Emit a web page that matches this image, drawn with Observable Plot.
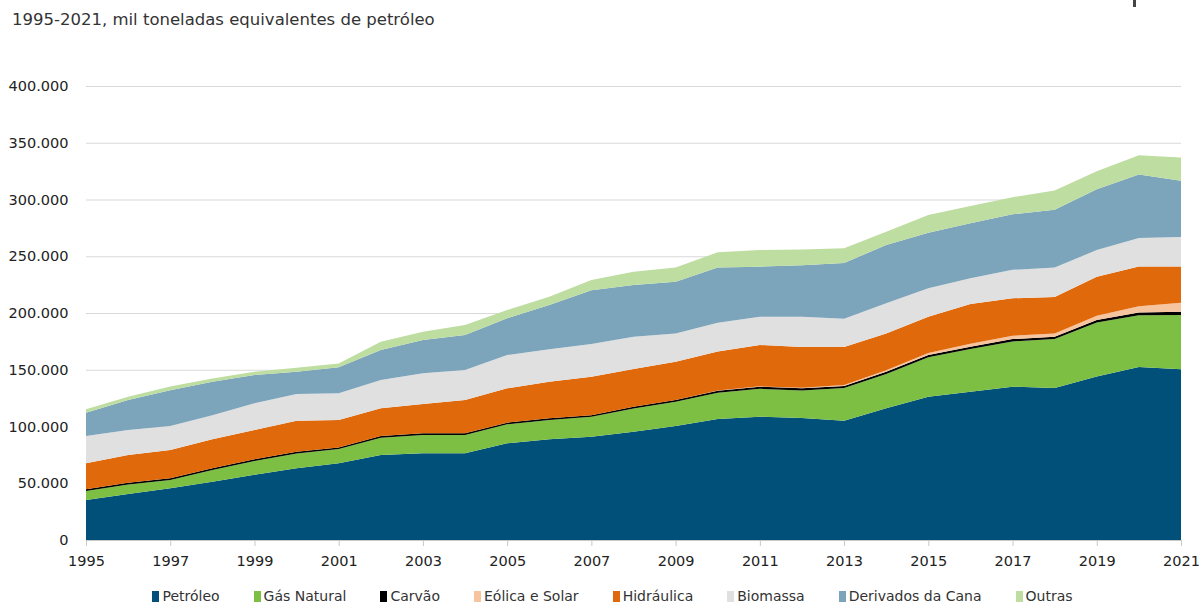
<!DOCTYPE html>
<html>
<head>
<meta charset="utf-8">
<script src="https://cdn.jsdelivr.net/npm/d3@7"></script>
<script src="https://cdn.jsdelivr.net/npm/@observablehq/plot@0.6"></script>
<style>
  html, body { margin: 0; padding: 0; background: #fff; }
  body { width: 1199px; height: 605px; position: relative; overflow: hidden; font-family: "DejaVu Sans", sans-serif; }
  #title { position: absolute; left: 12px; top: 10px; font-size: 16.5px; color: #333; }
  #logo { position: absolute; left: 1133px; top: 0; width: 3px; height: 7px; background: #444; }
  #chart { position: absolute; left: 0; top: 0; }
  #legend { position: absolute; left: 0; width: 1199px; top: 588px; display: flex; justify-content: center; gap: 34px; font-size: 14px; color: #333; padding-left: 26px; box-sizing: border-box; }
  #legend .item { display: flex; align-items: center; gap: 3px; }
  #legend .sw { width: 7px; height: 11px; display: inline-block; }
</style>
</head>
<body>
<div id="chart"></div>
<div id="title">1995-2021, mil toneladas equivalentes de petróleo</div>
<div id="logo"></div>
<div id="legend"></div>
<script>
const years = [1995,1996,1997,1998,1999,2000,2001,2002,2003,2004,2005,2006,2007,2008,2009,2010,2011,2012,2013,2014,2015,2016,2017,2018,2019,2020,2021];
const seriesNames = ["Petróleo","Gás Natural","Carvão","Eólica e Solar","Hidráulica","Biomassa","Derivados da Cana","Outras"];
const seriesColors = ["#00507a","#7dbf43","#000000","#f7c4a0","#e0690c","#e0e0e0","#7ca4ba","#bedda0"];
// values in thousand toe (mil tep)
const petroleo = [35.2,40.5,45.5,51.4,57.5,63.2,67.6,74.9,76.4,76.4,85.2,88.7,91,95.4,100.4,106.6,108.7,107.5,105,116,126.3,130.7,135,134,144,152.5,150.5];
const gasNatural = [8.0,8.5,7.3,10.3,12.1,13.1,12.5,15.2,16.1,16.1,16.7,17,17.5,20.5,21.4,23.1,24.5,24.3,28.9,30.3,34.7,37.6,40,43,47.6,45.5,47.7];
const carvao = [1.5,1.5,1.5,1.5,1.5,1.5,1.5,1.5,1.5,1.5,1.5,1.5,1.5,1.5,1.5,1.8,1.8,1.8,1.8,2,2,2,2,2,2.2,2.5,2.8];
const eolicaSolar = [0,0,0,0,0,0,0,0,0,0,0,0,0,0,0,0.2,0.4,0.6,0.9,1.3,1.8,2.5,3,3,3.8,5.5,8];
const hidraulica = [22.9,24.4,25,25.5,25.8,27.2,24.1,24.4,25.8,29.3,30.2,32.3,33.9,33.3,33.7,34.3,36.4,35.8,33.4,32.4,31.9,35.2,33,32,34.4,35,32];
const biomassa = [24,22,21.1,21.3,23.5,23.6,23.5,25,27.1,26.5,29.4,28.5,28.8,28.3,25,25.5,24.9,26.7,25,26.5,25,22.6,25,26,23.5,25,26];
const derivadosCana = [20.6,26.4,31.6,29.5,25,19.7,22.9,26.4,29.3,30.8,32.3,39,47.3,45.7,45.6,48.5,44.1,45.3,49,51.5,49.1,48.4,49,51,53.5,56,49.6];
const outras = [3.0,3.0,3.2,2.8,2.8,3.5,3.4,7.3,7.3,8.8,7.3,7.4,9,11.7,12.4,13.5,14.7,14,13,11.6,15.5,15.3,15,17,16,17,20.4];
const yTicks = [0,50000,100000,150000,200000,250000,300000,350000,400000];
const xTicks = [1995,1997,1999,2001,2003,2005,2007,2009,2011,2013,2015,2017,2019,2021];

const seriesValues = [petroleo,gasNatural,carvao,eolicaSolar,hidraulica,biomassa,derivadosCana,outras];
const data = [];
seriesNames.forEach((name, i) => {
  years.forEach((yr, j) => data.push({year: yr, fonte: name, value: seriesValues[i][j] * 1000}));
});

const fmt = d => d3.format(",")(d).replace(/,/g, ".");

const chart = Plot.plot({
  width: 1199,
  height: 580,
  marginLeft: 86,
  marginRight: 18,
  marginTop: 86,
  marginBottom: 40,
  style: {fontFamily: "DejaVu Sans, sans-serif", fontSize: "15px", color: "#222", background: "transparent"},
  x: {domain: [1995, 2021], label: null},
  y: {domain: [0, 400000], label: null},
  color: {domain: seriesNames, range: seriesColors},
  marks: [
    Plot.gridY(yTicks, {stroke: "#d9d9d9", strokeOpacity: 1, strokeWidth: 1.2}),
    Plot.areaY(data, {x: "year", y: "value", fill: "fonte", order: null}),
    Plot.ruleY([0], {stroke: "#c8c8c8", strokeWidth: 1.2}),
    Plot.axisY(yTicks, {tickSize: 0, tickPadding: 18, tickFormat: fmt, fontSize: 14.5, fill: "#222", label: null}),
    Plot.axisX(xTicks, {tickSize: 6, stroke: "#c8c8c8", tickPadding: 9, tickFormat: d => String(d), fontSize: 14.5, fill: "#222", label: null})
  ]
});
document.getElementById("chart").appendChild(chart);

const legend = document.getElementById("legend");
seriesNames.forEach((name, i) => {
  const it = document.createElement("span");
  it.className = "item";
  const sw = document.createElement("span");
  sw.className = "sw";
  sw.style.background = seriesColors[i];
  it.appendChild(sw);
  const t = document.createElement("span");
  t.textContent = name;
  it.appendChild(t);
  legend.appendChild(it);
});
</script>
</body>
</html>
